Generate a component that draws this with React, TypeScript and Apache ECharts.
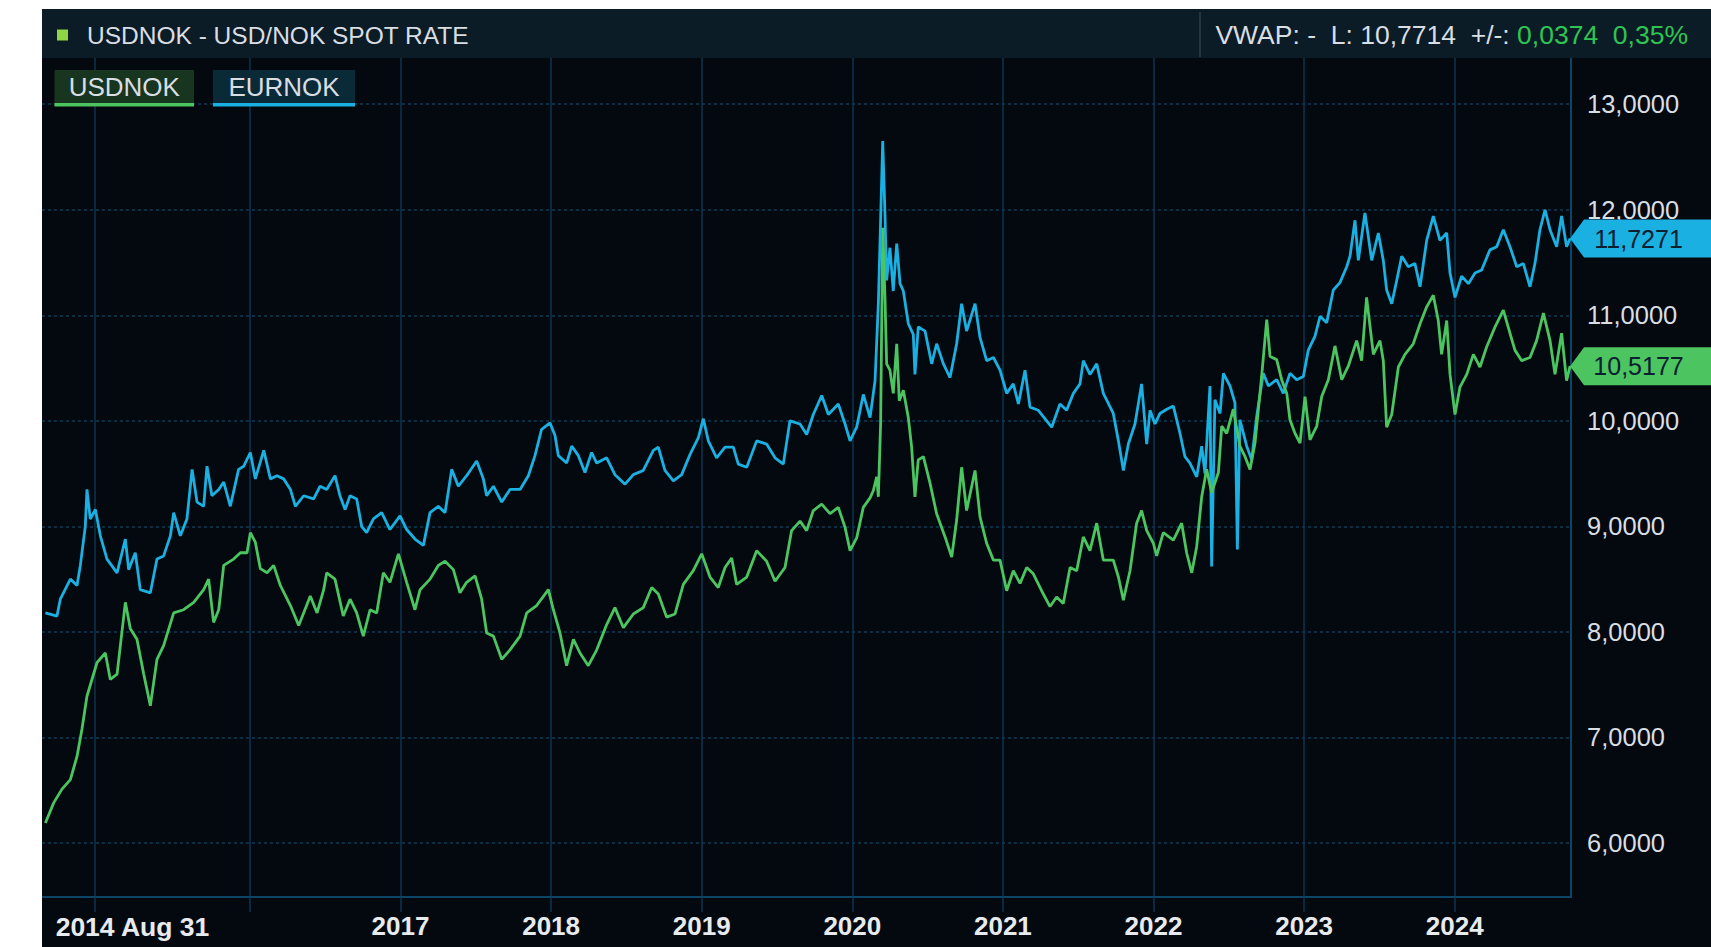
import React, { useEffect, useRef } from 'react';
import * as echarts from 'echarts';

// ---- Data (x = decimal year, y = NOK rate) ----
const usdT = [
  2014.642, 2014.697, 2014.752, 2014.808, 2014.852, 2014.885, 2014.918, 2014.985, 2015.040, 2015.073,
  2015.118, 2015.173, 2015.206, 2015.250, 2015.295, 2015.339, 2015.383, 2015.427, 2015.494, 2015.560,
  2015.627, 2015.693, 2015.726, 2015.759, 2015.793, 2015.826, 2015.892, 2015.937, 2015.981, 2016.003,
  2016.036, 2016.069, 2016.114, 2016.158, 2016.202, 2016.269, 2016.324, 2016.357, 2016.401, 2016.446,
  2016.490, 2016.510, 2016.565, 2016.620, 2016.665, 2016.709, 2016.753, 2016.798, 2016.842, 2016.886,
  2016.930, 2016.986, 2017.041, 2017.096, 2017.130, 2017.196, 2017.251, 2017.296, 2017.351, 2017.395,
  2017.439, 2017.495, 2017.539, 2017.572, 2017.617, 2017.672, 2017.727, 2017.794, 2017.838, 2017.904,
  2017.982, 2018.015, 2018.059, 2018.103, 2018.148, 2018.192, 2018.247, 2018.303, 2018.369, 2018.424,
  2018.480, 2018.546, 2018.612, 2018.668, 2018.712, 2018.767, 2018.823, 2018.878, 2018.944, 2019.000,
  2019.055, 2019.110, 2019.155, 2019.199, 2019.232, 2019.299, 2019.365, 2019.431, 2019.487, 2019.553,
  2019.597, 2019.653, 2019.697, 2019.741, 2019.797, 2019.852, 2019.907, 2019.952, 2019.985, 2020.029,
  2020.073, 2020.118, 2020.140, 2020.162, 2020.173, 2020.188, 2020.202, 2020.217, 2020.228, 2020.250,
  2020.272, 2020.295, 2020.312, 2020.339, 2020.372, 2020.394, 2020.416, 2020.438, 2020.472, 2020.516,
  2020.560, 2020.616, 2020.660, 2020.693, 2020.726, 2020.759, 2020.815, 2020.848, 2020.892, 2020.937,
  2020.981, 2021.025, 2021.069, 2021.114, 2021.158, 2021.202, 2021.257, 2021.313, 2021.357, 2021.401,
  2021.446, 2021.490, 2021.534, 2021.578, 2021.623, 2021.667, 2021.733, 2021.767, 2021.800, 2021.844,
  2021.888, 2021.921, 2021.955, 2021.999, 2022.021, 2022.065, 2022.132, 2022.187, 2022.220, 2022.254,
  2022.287, 2022.320, 2022.353, 2022.386, 2022.431, 2022.453, 2022.486, 2022.530, 2022.574, 2022.608,
  2022.641, 2022.674, 2022.718, 2022.752, 2022.774, 2022.818, 2022.851, 2022.885, 2022.906, 2022.940,
  2022.973, 2023.006, 2023.039, 2023.084, 2023.117, 2023.161, 2023.205, 2023.250, 2023.294, 2023.349,
  2023.382, 2023.415, 2023.460, 2023.504, 2023.526, 2023.548, 2023.582, 2023.626, 2023.670, 2023.725,
  2023.770, 2023.814, 2023.858, 2023.891, 2023.913, 2023.947, 2023.969, 2024.002, 2024.035, 2024.080,
  2024.124, 2024.168, 2024.212, 2024.268, 2024.323, 2024.367, 2024.400, 2024.445, 2024.500, 2024.544,
  2024.589, 2024.633, 2024.666, 2024.710, 2024.743, 2024.766,
];
const usdV = [
  6.19, 6.38, 6.51, 6.60, 6.82, 7.08, 7.39, 7.71, 7.80, 7.55,
  7.60, 8.28, 8.03, 7.93, 7.60, 7.30, 7.74, 7.87, 8.18, 8.21,
  8.28, 8.40, 8.50, 8.09, 8.21, 8.63, 8.69, 8.75, 8.75, 8.94,
  8.85, 8.60, 8.56, 8.63, 8.44, 8.25, 8.06, 8.18, 8.34, 8.18,
  8.40, 8.56, 8.50, 8.15, 8.31, 8.18, 7.96, 8.21, 8.18, 8.56,
  8.47, 8.74, 8.47, 8.21, 8.40, 8.50, 8.63, 8.67, 8.59, 8.37,
  8.47, 8.53, 8.31, 7.99, 7.96, 7.74, 7.83, 7.96, 8.18, 8.25,
  8.40, 8.21, 7.99, 7.68, 7.93, 7.80, 7.68, 7.83, 8.07, 8.23,
  8.04, 8.17, 8.23, 8.42, 8.36, 8.14, 8.17, 8.45, 8.58, 8.74,
  8.52, 8.42, 8.61, 8.70, 8.45, 8.52, 8.77, 8.67, 8.48, 8.61,
  8.96, 9.05, 8.96, 9.15, 9.21, 9.12, 9.18, 8.99, 8.77, 8.89,
  9.18, 9.27, 9.34, 9.47, 9.28, 9.97, 11.83, 11.17, 10.54, 10.48,
  10.26, 10.73, 10.19, 10.29, 10.03, 9.75, 9.28, 9.63, 9.66, 9.41,
  9.12, 8.90, 8.71, 9.06, 9.56, 9.15, 9.53, 9.09, 8.84, 8.68,
  8.68, 8.39, 8.58, 8.46, 8.61, 8.55, 8.39, 8.24, 8.33, 8.27,
  8.61, 8.58, 8.90, 8.77, 9.03, 8.68, 8.68, 8.52, 8.30, 8.58,
  9.03, 9.15, 8.96, 8.84, 8.72, 8.94, 8.87, 9.03, 8.75, 8.56,
  8.81, 9.28, 9.54, 9.32, 9.51, 9.95, 9.88, 10.11, 9.76, 9.66,
  9.54, 9.79, 10.42, 10.96, 10.61, 10.58, 10.39, 10.26, 10.01, 9.88,
  9.79, 10.23, 9.82, 9.95, 10.23, 10.39, 10.71, 10.39, 10.52, 10.76,
  10.57, 11.17, 10.63, 10.76, 10.57, 9.94, 10.06, 10.51, 10.63, 10.73,
  10.92, 11.08, 11.19, 10.95, 10.63, 10.95, 10.44, 10.06, 10.32, 10.44,
  10.63, 10.51, 10.70, 10.89, 11.05, 10.83, 10.67, 10.57, 10.60, 10.76,
  11.02, 10.76, 10.44, 10.83, 10.38, 10.5177,
];

const eurT = [
  2014.642, 2014.719, 2014.741, 2014.808, 2014.852, 2014.874, 2014.907, 2014.918, 2014.940, 2014.974,
  2015.007, 2015.051, 2015.118, 2015.173, 2015.195, 2015.239, 2015.272, 2015.339, 2015.383, 2015.427,
  2015.472, 2015.494, 2015.538, 2015.582, 2015.616, 2015.649, 2015.693, 2015.715, 2015.748, 2015.793,
  2015.826, 2015.870, 2015.925, 2015.959, 2016.003, 2016.036, 2016.092, 2016.136, 2016.180, 2016.224,
  2016.269, 2016.302, 2016.357, 2016.423, 2016.466, 2016.510, 2016.565, 2016.598, 2016.632, 2016.665,
  2016.709, 2016.742, 2016.775, 2016.820, 2016.875, 2016.930, 2016.997, 2017.041, 2017.096, 2017.152,
  2017.196, 2017.251, 2017.296, 2017.340, 2017.384, 2017.439, 2017.506, 2017.550, 2017.572, 2017.617,
  2017.672, 2017.727, 2017.794, 2017.849, 2017.893, 2017.937, 2017.993, 2018.026, 2018.048, 2018.103,
  2018.137, 2018.181, 2018.225, 2018.269, 2018.303, 2018.369, 2018.424, 2018.491, 2018.546, 2018.612,
  2018.679, 2018.712, 2018.756, 2018.812, 2018.867, 2018.922, 2018.978, 2019.011, 2019.044, 2019.099,
  2019.155, 2019.210, 2019.243, 2019.299, 2019.365, 2019.431, 2019.487, 2019.542, 2019.586, 2019.653,
  2019.697, 2019.741, 2019.797, 2019.841, 2019.907, 2019.952, 2019.985, 2020.029, 2020.073, 2020.118,
  2020.151, 2020.173, 2020.188, 2020.202, 2020.217, 2020.228, 2020.250, 2020.272, 2020.295, 2020.317,
  2020.339, 2020.372, 2020.405, 2020.416, 2020.438, 2020.483, 2020.527, 2020.560, 2020.605, 2020.649,
  2020.693, 2020.726, 2020.759, 2020.815, 2020.848, 2020.892, 2020.937, 2020.981, 2021.025, 2021.069,
  2021.103, 2021.147, 2021.180, 2021.235, 2021.291, 2021.324, 2021.379, 2021.423, 2021.468, 2021.512,
  2021.534, 2021.578, 2021.623, 2021.667, 2021.733, 2021.767, 2021.800, 2021.833, 2021.877, 2021.921,
  2021.955, 2021.977, 2022.010, 2022.043, 2022.088, 2022.132, 2022.176, 2022.209, 2022.242, 2022.287,
  2022.320, 2022.342, 2022.375, 2022.386, 2022.408, 2022.442, 2022.464, 2022.508, 2022.541, 2022.557,
  2022.574, 2022.619, 2022.652, 2022.685, 2022.729, 2022.763, 2022.818, 2022.862, 2022.906, 2022.951,
  2022.995, 2023.028, 2023.072, 2023.106, 2023.150, 2023.194, 2023.238, 2023.283, 2023.305, 2023.338,
  2023.360, 2023.404, 2023.449, 2023.493, 2023.526, 2023.548, 2023.582, 2023.615, 2023.648, 2023.692,
  2023.736, 2023.770, 2023.814, 2023.858, 2023.902, 2023.947, 2023.969, 2024.002, 2024.046, 2024.091,
  2024.135, 2024.179, 2024.234, 2024.279, 2024.323, 2024.367, 2024.412, 2024.456, 2024.500, 2024.533,
  2024.566, 2024.600, 2024.633, 2024.677, 2024.710, 2024.743, 2024.766,
];
const eurV = [
  8.18, 8.15, 8.31, 8.50, 8.44, 8.63, 9.00, 9.35, 9.07, 9.16,
  8.91, 8.69, 8.56, 8.88, 8.59, 8.75, 8.40, 8.37, 8.69, 8.72,
  8.91, 9.13, 8.91, 9.07, 9.54, 9.23, 9.19, 9.57, 9.29, 9.35,
  9.42, 9.19, 9.54, 9.57, 9.70, 9.45, 9.72, 9.45, 9.48, 9.45,
  9.35, 9.19, 9.29, 9.26, 9.38, 9.35, 9.48, 9.29, 9.16, 9.29,
  9.26, 9.00, 8.94, 9.07, 9.13, 8.97, 9.10, 8.97, 8.88, 8.82,
  9.13, 9.19, 9.13, 9.54, 9.38, 9.48, 9.62, 9.45, 9.29, 9.38,
  9.23, 9.35, 9.35, 9.48, 9.67, 9.92, 9.98, 9.86, 9.67, 9.60,
  9.76, 9.67, 9.51, 9.70, 9.60, 9.65, 9.49, 9.40, 9.49, 9.53,
  9.72, 9.75, 9.53, 9.43, 9.49, 9.68, 9.84, 10.02, 9.81, 9.65,
  9.75, 9.75, 9.59, 9.56, 9.81, 9.78, 9.65, 9.59, 10.00, 9.97,
  9.87, 10.06, 10.24, 10.06, 10.16, 9.97, 9.81, 9.94, 10.25, 10.03,
  10.38, 11.11, 11.90, 12.65, 11.96, 11.33, 11.64, 11.23, 11.68, 11.30,
  11.23, 10.92, 10.82, 10.44, 10.89, 10.85, 10.54, 10.73, 10.54, 10.41,
  10.73, 11.11, 10.85, 11.11, 10.79, 10.57, 10.60, 10.48, 10.26, 10.35,
  10.16, 10.48, 10.13, 10.10, 10.00, 9.94, 10.16, 10.10, 10.26, 10.35,
  10.57, 10.44, 10.54, 10.26, 10.07, 9.81, 9.53, 9.78, 9.97, 10.35,
  9.78, 10.10, 9.97, 10.07, 10.11, 10.14, 9.88, 9.66, 9.60, 9.47,
  9.76, 9.50, 10.33, 8.62, 10.20, 10.07, 10.45, 10.33, 10.17, 8.78,
  10.01, 9.76, 9.63, 10.04, 10.45, 10.33, 10.39, 10.26, 10.45, 10.39,
  10.42, 10.67, 10.80, 10.99, 10.93, 11.24, 11.31, 11.46, 11.56, 11.90,
  11.52, 11.97, 11.52, 11.78, 11.52, 11.24, 11.11, 11.33, 11.56, 11.46,
  11.49, 11.27, 11.71, 11.94, 11.71, 11.78, 11.40, 11.17, 11.37, 11.30,
  11.40, 11.43, 11.62, 11.65, 11.81, 11.65, 11.46, 11.49, 11.27, 11.49,
  11.81, 12.00, 11.81, 11.65, 11.94, 11.65, 11.7271,
];

const yTicks = [6, 7, 8, 9, 10, 11, 12, 13];
const xTicks = [2014.968, 2016, 2017, 2018, 2019, 2020, 2021, 2022, 2023, 2024];
const xLabelValues = [2014.968, 2017, 2018, 2019, 2020, 2021, 2022, 2023, 2024];
const firstLabel = '2014 Aug 31';
const titleText = 'USDNOK - USD/NOK SPOT RATE';
const quoteGray = 'VWAP: -  L: 10,7714  +/-: ';
const quoteGreen = '0,0374  0,35%';
const legendNames = ['USDNOK', 'EURNOK'];

// ---- Style ----
const FONT = '"Liberation Sans", Arial, Helvetica, sans-serif';
const PLOT_BG = '#03090e';
const HEADER_BG = '#0c1c27';
const GRID_H = '#0f3b56';
const GRID_V = '#0b3550';
const AXIS = '#0e4566';
const TEXT = '#d9dee3';
const GREEN = '#4cc560';
const BLUE = '#1ab0e1';
const QUOTE_GREEN = '#2fc552';

const fmtNum = (v: number) => v.toFixed(4).replace('.', ',');
const TAG_PATH = 'path://M0,19L14,0L141,0L141,38L14,38Z';

export default function App() {
  const ref = useRef<HTMLDivElement>(null);

  useEffect(() => {
    document.body.style.margin = '0';
    if (!ref.current) return;
    const chart = echarts.init(ref.current, undefined, { renderer: 'svg' });

    const tag = (t: number[], v: number[], color: string) => ({
      symbol: TAG_PATH,
      symbolSize: [141, 38],
      symbolKeepAspect: false,
      symbolOffset: [70.5, 0],
      silent: true,
      itemStyle: { color },
      label: {
        show: true,
        position: 'inside',
        formatter: (p: any) => fmtNum(p.value),
        color: '#0a2030',
        fontSize: 25,
        fontFamily: FONT,
        offset: [-2, 0],
      },
      data: [{ coord: [t[t.length - 1], v[v.length - 1]], value: v[v.length - 1] }],
    });

    const legendBox = (x: number, w: number, name: string, bg: string, line: string) => ({
      type: 'group',
      z: 100,
      children: [
        { type: 'rect', z: 100, shape: { x, y: 61, width: w, height: 36 }, style: { fill: bg } },
        { type: 'rect', z: 101, shape: { x, y: 94, width: w, height: 3.5 }, style: { fill: line } },
        {
          type: 'text', z: 102, x: x + w / 2, y: 78,
          style: { text: name, fill: TEXT, fontSize: 26, fontFamily: FONT, align: 'center', verticalAlign: 'middle' },
        },
      ],
    });

    chart.setOption({
      animation: false,
      backgroundColor: PLOT_BG,
      grid: { left: 0, right: 140, top: 49, bottom: 50 },
      xAxis: {
        type: 'value',
        min: 2014.6195,
        max: 2024.7723,
        axisLine: { show: true, onZero: false, lineStyle: { color: AXIS, width: 2 } },
        axisTick: { show: true, customValues: xTicks, length: 15, inside: false, lineStyle: { color: GRID_V, width: 1.5 } },
        splitLine: { show: true, lineStyle: { color: GRID_V, width: 1.5 } },
        axisLabel: {
          customValues: xLabelValues,
          margin: 16,
          formatter: (v: number) => (v < 2015 ? '{first|' + firstLabel + '}' : '{yr|' + Math.round(v) + '}'),
          rich: {
            first: { fontSize: 26.5, fontWeight: 'bold', fontFamily: FONT, color: '#e8ebee', padding: [0, 0, 0, 76] },
            yr: { fontSize: 26, fontWeight: 'bold', fontFamily: FONT, color: '#e8ebee' },
          },
        },
      },
      yAxis: {
        type: 'value',
        position: 'right',
        min: 5.488,
        max: 13.438,
        axisLine: { show: true, lineStyle: { color: AXIS, width: 2 } },
        axisTick: { show: false, customValues: yTicks },
        splitLine: { show: true, lineStyle: { color: GRID_H, width: 1.5, type: [3, 3] } },
        axisLabel: {
          customValues: yTicks,
          formatter: (v: number) => fmtNum(v),
          color: TEXT,
          fontSize: 25.5,
          fontFamily: FONT,
          margin: 16,
          align: 'left',
        },
      },
      series: [
        {
          type: 'line',
          name: 'EURNOK',
          data: eurT.map((t, i) => [t, eurV[i]]),
          showSymbol: false,
          symbol: 'none',
          silent: true,
          z: 3,
          lineStyle: { color: BLUE, width: 2.8 },
          itemStyle: { color: BLUE },
          markPoint: tag(eurT, eurV, BLUE),
        },
        {
          type: 'line',
          name: 'USDNOK',
          data: usdT.map((t, i) => [t, usdV[i]]),
          showSymbol: false,
          symbol: 'none',
          silent: true,
          z: 4,
          lineStyle: { color: GREEN, width: 2.8 },
          itemStyle: { color: GREEN },
          markPoint: tag(usdT, usdV, GREEN),
        },
      ],
      graphic: [
        { type: 'rect', z: 50, shape: { x: 0, y: 0, width: 1669, height: 49 }, style: { fill: HEADER_BG } },
        { type: 'rect', z: 51, shape: { x: 15, y: 20.5, width: 11, height: 11 }, style: { fill: '#8fd444' } },
        {
          type: 'text', z: 51, x: 45, y: 26,
          style: { text: titleText, fill: TEXT, fontSize: 24.5, fontFamily: FONT, align: 'left', verticalAlign: 'middle' },
        },
        { type: 'line', z: 51, shape: { x1: 1158, y1: 3, x2: 1158, y2: 48 }, style: { stroke: '#2b3f4c', lineWidth: 1.5 } },
        {
          type: 'text', z: 51, x: 1646, y: 26,
          style: {
            text: '{g|' + quoteGray + '}{v|' + quoteGreen + '}',
            align: 'right',
            verticalAlign: 'middle',
            rich: {
              g: { fill: TEXT, fontSize: 26.5, fontFamily: FONT },
              v: { fill: QUOTE_GREEN, fontSize: 26.5, fontFamily: FONT },
            },
          },
        },
        legendBox(12.5, 139.5, legendNames[0], '#17351f', GREEN),
        legendBox(171, 142, legendNames[1], '#0b2a38', BLUE),
      ],
    });

    return () => chart.dispose();
  }, []);

  return (
    <div style={{ position: 'relative', width: 1711, height: 947, background: '#ffffff', overflow: 'hidden' }}>
      <div ref={ref} style={{ position: 'absolute', left: 42, top: 9, width: 1669, height: 938 }} />
    </div>
  );
}
